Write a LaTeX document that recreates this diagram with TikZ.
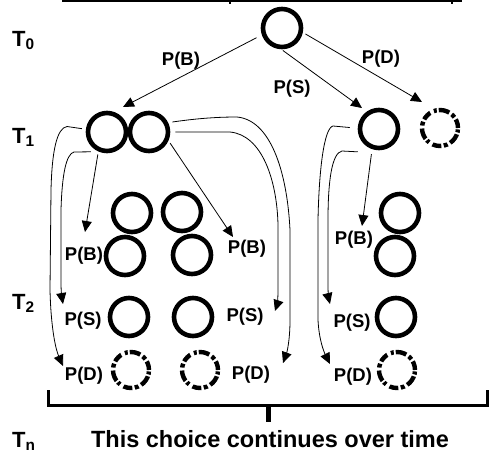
\documentclass[tikz,border=0pt]{standalone}
\usepackage{fontspec}
\setmainfont{Liberation Sans}
\usetikzlibrary{arrows.meta,calc}
\begin{document}
\begin{tikzpicture}[x=1pt,y=-1pt,
  st/.style={circle, draw, line width=4.6pt, minimum size=38pt, inner sep=0pt},
  dcloud/.style={circle, draw, line width=4.4pt, minimum size=36pt, inner sep=0pt,
     dash pattern=on 9pt off 2.5pt on 4pt off 3pt on 11pt off 2pt on 3pt off 4pt},
  lab/.style={font=\fontsize{18.5}{22}\selectfont\bfseries, inner sep=0pt, anchor=base},
  tl/.style={font=\fontsize{22}{26}\selectfont\bfseries, inner sep=0pt, anchor=base west},
  arr/.style={line width=0.8pt, -{Triangle[length=11pt,width=10pt]}},
  brk/.style={line width=3pt}]
\useasboundingbox (0,0) rectangle (489,456);

% top cut-off bracket
\draw[line width=1.5pt] (62,1) -- (462,1);
\draw[line width=1.2pt] (230,0) -- (230,4);
\draw[line width=1.2pt] (452,0) -- (452,4);

% time labels
\node[tl] (t0) at (12,46) {T\textsubscript{0}};
\node[tl] (t1) at (12,143) {T\textsubscript{1}};
\node[tl] (t2) at (12,309) {T\textsubscript{2}};
\node[tl] (tn) at (12,447) {T\textsubscript{n}};

% circles
\node[st] (top) at (282,28) {};
\node[st] (b1) at (107,132) {};
\node[st] (b2) at (149,132) {};
\node[st] (r1) at (379,129) {};
\node[dcloud] (cl1) at (440,128) {};

\node[st] (u1) at (132,213) {};
\node[st] (u2) at (125,256) {};
\node[st] (v1) at (182,212) {};
\node[st] (v2) at (192,255) {};
\node[st] (w1) at (400,213) {};
\node[st] (w2) at (395,256) {};

\node[st] (s1) at (129,317) {};
\node[st] (s2) at (193,317) {};
\node[st] (s3) at (396,317) {};

\node[dcloud] (c1) at (131,370) {};
\node[dcloud] (c2) at (200,370) {};
\node[dcloud] (c3) at (397,370) {};

% labels
\node[lab] (pbt) at (181,65) {P(B)};
\node[lab] (pst) at (292,93) {P(S)};
\node[lab] (pdt) at (381,63) {P(D)};
\node[lab] (pb1) at (84,260) {P(B)};
\node[lab] (pb2) at (247,253) {P(B)};
\node[lab] (pb3) at (354,244) {P(B)};
\node[lab] (ps1) at (83,325) {P(S)};
\node[lab] (ps2) at (245,321) {P(S)};
\node[lab] (ps3) at (352,327) {P(S)};
\node[lab] (pd1) at (84,380) {P(D)};
\node[lab] (pd2) at (251,379) {P(D)};
\node[lab] (pd3) at (353,381) {P(D)};

% arrow tip coordinates
\coordinate (tT1) at (123,107);
\coordinate (tT2) at (362,108);
\coordinate (tT3) at (422,102);
\coordinate (tB1) at (85,232);
\coordinate (tB2) at (233,237);
\coordinate (tB3) at (362,226);
\coordinate (tS1) at (63,304);
\coordinate (tD1) at (63,366);
\coordinate (tS2) at (275,311);
\coordinate (tD2) at (283,363);
\coordinate (tS3) at (330,304);
\coordinate (tD3) at (330,364);

% top arrows
\draw[arr, shorten <=6pt] (top.199) -- (tT1);
\draw[arr, shorten <=2pt] (top.268) -- (tT2);
\draw[arr, shorten <=3pt] (top.348) -- (tT3);

% straight arrows to P(B)
\draw[arr, shorten <=3pt] (b1.246) -- (tB1);
\draw[arr, shorten <=3pt] (b2.336) -- (tB2);
\draw[arr, shorten <=5pt] (r1.251) -- (tB3);

% left group curves
\draw[arr] ([xshift=-4pt]b1.171) -- (67,126.5)
   .. controls (57,128) and (52,150) .. (51,190) -- (50,290)
   .. controls (51,330) and (56,350) .. (tD1);
\draw[arr] ([xshift=-3pt,yshift=-3pt]b1.232) -- (74,152)
   .. controls (66,154) and (62,175) .. (61,210) -- (61,282)
   .. controls (61,293) and (62,298) .. (tS1);
\draw[arr] ([xshift=4pt,yshift=1pt]b2.25)
   .. controls (200,118) and (220,117) .. (237,117)
   .. controls (270,120) and (287,170) .. (290,230) -- (290,320)
   .. controls (290,340) and (287,352) .. (tD2);
\draw[arr] ([xshift=5pt]b2.0) -- (230,132)
   .. controls (262,135) and (277,180) .. (278,225) -- (278,290)
   .. controls (278,300) and (277,305) .. (tS2);

% right group curves
\draw[arr] ([xshift=-8pt]r1.176) -- (333,126)
   .. controls (324,128) and (319,170) .. (318,220) -- (318,320)
   .. controls (319,340) and (324,352) .. (tD3);
\draw[arr] ([xshift=-7pt,yshift=-7pt]r1.228) -- (342,151)
   .. controls (332,153) and (328,180) .. (328,220) -- (328,285)
   .. controls (328,295) and (329,300) .. (tS3);

% bottom bracket
\draw[brk] (48,390) -- (48,405.5) -- (487,405.5) -- (487,390);
\draw[line width=5pt] (268,405) -- (268,422);

\node[font=\fontsize{23.5}{28}\selectfont\bfseries, inner sep=0pt, anchor=base] (txt) at (270,447) {This choice continues over time};
\end{tikzpicture}
\end{document}
